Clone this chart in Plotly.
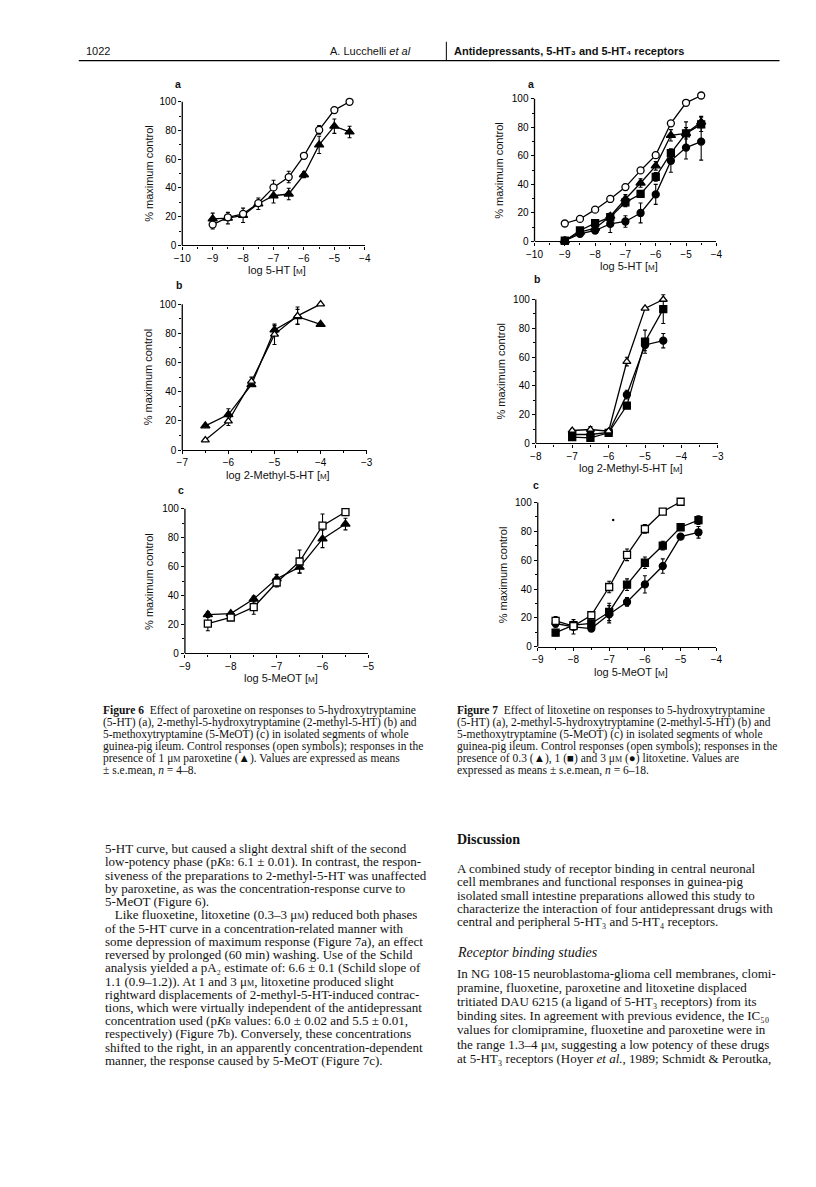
from plotly import graph_objects as go

W, H = 816, 1187

# ---- Figure 6 (paroxetine) ----
f6a_x = [-9, -8.5, -8, -7.5, -7, -6.5, -6, -5.5, -5, -4.5]
f6a_ctrl = [14.5, 19.6, 22, 29.5, 40.4, 47.6, 62.4, 80.4, 94.2, 100]
f6a_ctrl_err = [3, 0, 0, 0, 5, 4, 2, 3, 2, 0]
f6a_parox = [18.5, 19, 21, 29, 34.6, 35.8, 49.2, 70, 83, 79]
f6a_parox_err = [4, 4, 5, 4, 5, 4, 2, 6, 5, 4]

f6b_x = [-6.5, -6, -5.5, -5, -4.5, -4]
f6b_ctrl = [6.8, 19.8, 47, 79.3, 92, 100]
f6b_ctrl_err = [0, 3, 3, 7, 6, 0]
f6b_parox = [16.6, 24.3, 44.8, 82.3, 91.4, 86.1]
f6b_parox_err = [0, 4, 0, 3, 5, 0]

f6c_x = [-8.5, -8, -7.5, -7, -6.5, -6, -5.5]
f6c_ctrl = [20.6, 24.8, 32, 49, 63.5, 88.3, 97.7]
f6c_ctrl_err = [5, 0, 5, 3, 8, 8, 2]
f6c_parox = [26.8, 27.5, 37.6, 51.6, 59.6, 79.1, 89.4]
f6c_parox_err = [2, 0, 2, 3, 4, 6, 4]

# ---- Figure 7 (litoxetine) ----
f7a_x = [-9, -8.5, -8, -7.5, -7, -6.5, -6, -5.5, -5, -4.5]
f7a_ctrl = [12.6, 15.8, 22.3, 29.8, 38.1, 49.8, 60.5, 82.8, 97.2, 102.3]
f7a_ctrl_err = [0, 0, 0, 2, 2, 1, 2, 2, 0, 0]
f7a_lit03 = [0.5, 6.5, 9.3, 17.7, 29.8, 41, 53, 74.4, 75.8, 83.7]
f7a_lit03_err = [0, 1, 1, 2, 3, 3, 3, 4, 4, 4]
f7a_lit1 = [0.5, 7.7, 12.8, 17, 27.4, 33.3, 45.3, 61.9, 75.8, 82.1]
f7a_lit1_err = [0, 1, 1, 2, 3, 2, 3, 3, 8, 5]
f7a_lit3 = [0.5, 5.3, 7.7, 12.3, 14, 20, 33, 56.5, 65.8, 70]
f7a_lit3_err = [0, 1, 2, 6, 4, 7, 7, 8, 8, 13]

f7b_x = [-7, -6.5, -6, -5.5, -5, -4.5]
f7b_ctrl = [9, 9.7, 8.5, 56.9, 93.8, 100]
f7b_ctrl_err = [1, 2, 1, 3, 0, 0]
f7b_lit1 = [4.4, 3.9, 7.4, 26.3, 70.7, 93.3]
f7b_lit1_err = [1, 1, 1, 2, 8, 10]
f7b_lit3 = [6.2, 6.2, 7.6, 33.9, 68.4, 71.4]
f7b_lit3_err = [1, 1, 1, 3, 4, 5]

f7c_x = [-8.5, -8, -7.5, -7, -6.5, -6, -5.5, -5, -4.5]
f7c_ctrl_x = [-8.5, -8, -7.5, -7, -6.5, -6, -5.5, -5]
f7c_ctrl = [17.9, 14.3, 21.8, 41.4, 63.7, 81.6, 93.6, 100.5]
f7c_ctrl_err = [3, 0, 2, 4, 4, 3, 0, 0]
f7c_lit1 = [9.7, 14.9, 16.1, 24.1, 43, 58.2, 70.1, 82.8, 87.8]
f7c_lit1_err = [2, 2, 2, 6, 4, 4, 3, 2, 3]
f7c_lit3 = [16.1, 13.8, 12.6, 22.5, 31, 43.2, 55.9, 76.3, 79.3]
f7c_lit3_err = [3, 5, 2, 6, 3, 6, 5, 2, 4]

M = "<span style='font-size:8px'>M</span>"
KB = "p<i>K</i><span style='font-size:8px'>B</span>"
x_titles = ["log 5-HT [" + M + "]", "log 2-Methyl-5-HT [" + M + "]", "log 5-MeOT [" + M + "]"] * 2
y_title = "% maximum control"
panel_letters = ["a", "b", "c", "a", "b", "c"]

fig6_caption = [
    "<b>Figure 6</b>  Effect of paroxetine on responses to 5-hydroxytryptamine",
    "(5-HT) (a), 2-methyl-5-hydroxytryptamine (2-methyl-5-HT) (b) and",
    "5-methoxytryptamine (5-MeOT) (c) in isolated segments of whole",
    "guinea-pig ileum. Control responses (open symbols); responses in the",
    "presence of 1 μ" + M + " paroxetine (▲). Values are expressed as means",
    "± s.e.mean, <i>n</i> = 4–8.",
]
fig7_caption = [
    "<b>Figure 7</b>  Effect of litoxetine on responses to 5-hydroxytryptamine",
    "(5-HT) (a), 2-methyl-5-hydroxytryptamine (2-methyl-5-HT) (b) and",
    "5-methoxytryptamine (5-MeOT) (c) in isolated segments of whole",
    "guinea-pig ileum. Control responses (open symbols); responses in the",
    "presence of 0.3 (▲), 1 (■) and 3 μ" + M + " (●) litoxetine. Values are",
    "expressed as means ± s.e.mean, <i>n</i> = 6–18.",
]
left_body = [
    "5-HT curve, but caused a slight dextral shift of the second",
    "low-potency phase (" + KB + ": 6.1 ± 0.01). In contrast, the respon-",
    "siveness of the preparations to 2-methyl-5-HT was unaffected",
    "by paroxetine, as was the concentration-response curve to",
    "5-MeOT (Figure 6).",
    "   Like fluoxetine, litoxetine (0.3–3 μ" + M + ") reduced both phases",
    "of the 5-HT curve in a concentration-related manner with",
    "some depression of maximum response (Figure 7a), an effect",
    "reversed by prolonged (60 min) washing. Use of the Schild",
    "analysis yielded a pA₂ estimate of: 6.6 ± 0.1 (Schild slope of",
    "1.1 (0.9–1.2)). At 1 and 3 μ" + M + ", litoxetine produced slight",
    "rightward displacements of 2-methyl-5-HT-induced contrac-",
    "tions, which were virtually independent of the antidepressant",
    "concentration used (" + KB + " values: 6.0 ± 0.02 and 5.5 ± 0.01,",
    "respectively) (Figure 7b). Conversely, these concentrations",
    "shifted to the right, in an apparently concentration-dependent",
    "manner, the response caused by 5-MeOT (Figure 7c).",
]
right_body1 = [
    "A combined study of receptor binding in central neuronal",
    "cell membranes and functional responses in guinea-pig",
    "isolated small intestine preparations allowed this study to",
    "characterize the interaction of four antidepressant drugs with",
    "central and peripheral 5-HT₃ and 5-HT₄ receptors.",
]
right_body2 = [
    "In NG 108-15 neuroblastoma-glioma cell membranes, clomi-",
    "pramine, fluoxetine, paroxetine and litoxetine displaced",
    "tritiated DAU 6215 (a ligand of 5-HT₃ receptors) from its",
    "binding sites. In agreement with previous evidence, the IC₅₀",
    "values for clomipramine, fluoxetine and paroxetine were in",
    "the range 1.3–4 μ" + M + ", suggesting a low potency of these drugs",
    "at 5-HT₃ receptors (Hoyer <i>et al.</i>, 1989; Schmidt & Peroutka,",
]


def px(x):
    return x / W


def py(y):
    return 1 - y / H


# panel geometry in page pixels: x-left, x-right, y(100), y(0), x-range
panels = [
    (177.3, 363.0, 102.3, 246.7, [-10, -4]),
    (177.3, 365.0, 305.7, 452.3, [-7, -3]),
    (180.0, 366.7, 511.3, 656.7, [-9, -5]),
    (535.7, 720.7, 99.3, 242.7, [-10, -4]),
    (537.0, 722.3, 301.0, 445.7, [-8, -3]),
    (539.0, 720.7, 505.0, 650.0, [-9, -4]),
]
YTOP = 104  # headroom so points just above 100 are not clipped
letter_pos = [(173, 84), (174, 286), (176, 492), (532, 84), (538, 280), (537, 487)]
ytitle_x = [142.7, 142.7, 143.3, 499.3, 501.7, 503.3]

fig = go.Figure()


def series(i, x, y, err, symbol, filled, size=7):
    ax = "" if i == 1 else str(i)
    fig.add_trace(go.Scatter(
        x=x, y=y, xaxis="x" + ax, yaxis="y" + ax,
        mode="lines+markers", cliponaxis=False,
        line=dict(color="black", width=1.3),
        marker=dict(symbol=symbol, size=size,
                    color="black" if filled else "white",
                    line=dict(color="black", width=1.3)),
        error_y=dict(type="data", array=err, color="black", thickness=1.1, width=2)))


series(1, f6a_x, f6a_parox, f6a_parox_err, "triangle-up", True, 8)
series(1, f6a_x, f6a_ctrl, f6a_ctrl_err, "circle", False)
series(2, f6b_x, f6b_parox, f6b_parox_err, "triangle-up", True, 8)
series(2, f6b_x, f6b_ctrl, f6b_ctrl_err, "triangle-up", False, 7)
series(3, f6c_x, f6c_parox, f6c_parox_err, "triangle-up", True, 8)
series(3, f6c_x, f6c_ctrl, f6c_ctrl_err, "square", False)

series(4, f7a_x, f7a_lit3, f7a_lit3_err, "circle", True)
series(4, f7a_x, f7a_lit1, f7a_lit1_err, "square", True)
series(4, f7a_x, f7a_lit03, f7a_lit03_err, "triangle-up", True, 8)
series(4, f7a_x, f7a_ctrl, f7a_ctrl_err, "circle", False)
series(5, f7b_x, f7b_lit3, f7b_lit3_err, "circle", True)
series(5, f7b_x, f7b_lit1, f7b_lit1_err, "square", True)
series(5, f7b_x, f7b_ctrl, f7b_ctrl_err, "triangle-up", False, 7)
series(6, f7c_x, f7c_lit3, f7c_lit3_err, "circle", True)
series(6, f7c_x, f7c_lit1, f7c_lit1_err, "square", True)
series(6, f7c_ctrl_x, f7c_ctrl, f7c_ctrl_err, "square", False)

sans = "Liberation Sans, Arial"
serif = "Liberation Serif, Times New Roman"
tickfont = dict(family=sans, size=10, color="black")
layout = {}
annotations = []
shapes = []


def note(x, y, s, size, family, xanchor="left", **kw):
    annotations.append(dict(
        x=px(x), y=py(y), xref="paper", yref="paper", text=s, showarrow=False,
        xanchor=xanchor, yanchor="middle", font=dict(family=family, size=size, color="#111"), **kw))


for i, (x0, x1, ytop, ybot, xr) in enumerate(panels, start=1):
    ax = "" if i == 1 else str(i)
    unit = (ybot - ytop) / 100.0
    top_px = ybot - YTOP * unit
    layout["xaxis" + ax] = dict(
        domain=[px(x0), px(x1)], range=xr, anchor="y" + ax,
        showline=True, linecolor="black", linewidth=1.3,
        ticks="outside", ticklen=3, tickwidth=1.2, tickcolor="black",
        tick0=0, dtick=1, showgrid=False, zeroline=False, tickfont=tickfont,
        minor=dict(ticks="outside", ticklen=2, dtick=0.5, tickcolor="black", showgrid=False))
    layout["yaxis" + ax] = dict(
        domain=[py(ybot), py(top_px)], range=[0, YTOP], anchor="x" + ax,
        showline=False, ticks="outside", ticklen=3, tickwidth=1.2, tickcolor="black",
        tick0=0, dtick=20, showgrid=False, zeroline=False, tickfont=tickfont,
        minor=dict(ticks="outside", ticklen=2, dtick=10, tickcolor="black", showgrid=False))
    # y axis line only from 0 to 100, as in the print
    shapes.append(dict(type="line", xref="x" + ax + " domain", yref="y" + ax,
                       x0=0, x1=0, y0=0, y1=100, line=dict(color="black", width=1.3)))
    k = i - 1
    note(letter_pos[k][0], letter_pos[k][1], "<b>" + panel_letters[k] + "</b>", 10.5, sans, "center")
    note(ytitle_x[k], (ytop + ybot) / 2, y_title, 11, sans, "center", textangle=-90)
    note((x0 + x1) / 2 + 4, ybot + 25, x_titles[k], 11, sans, "center")

# page header
hfont = "Liberation Sans Narrow, Liberation Sans"
note(77, 51, "1022", 11, hfont)
note(412, 51, "A. Lucchelli <i>et al</i>", 11, hfont, "right")
note(452, 51, "<b>Antidepressants, 5-HT₃ and 5-HT₄ receptors</b>", 11, hfont)
shapes += [
    dict(type="line", xref="paper", yref="paper", x0=px(72), x1=px(785), y0=py(61), y1=py(61),
         line=dict(color="black", width=1.2)),
    dict(type="line", xref="paper", yref="paper", x0=px(446), x1=px(446), y0=py(42), y1=py(61),
         line=dict(color="black", width=1)),
    dict(type="circle", xref="paper", yref="paper", x0=px(614.5), x1=px(617), y0=py(521.5), y1=py(524),
         fillcolor="black", line=dict(width=0)),
]

for k, line in enumerate(fig6_caption):
    note(95, 714 + 12 * k, line, 11.5, serif)
for k, line in enumerate(fig7_caption):
    note(455, 714 + 12 * k, line, 11.5, serif)
for k, line in enumerate(left_body):
    note(97, 853 + 13.3 * k, line, 13, serif)
note(455, 844, "<b>Discussion</b>", 14, serif)
for k, line in enumerate(right_body1):
    note(455, 873 + 13.3 * k, line, 13, serif)
note(455, 957, "<i>Receptor binding studies</i>", 14, serif)
for k, line in enumerate(right_body2):
    note(455, 978 + 14.3 * k, line, 13, serif)

fig.update_layout(
    width=W, height=H, margin=dict(l=0, r=0, t=0, b=0),
    paper_bgcolor="white", plot_bgcolor="white", showlegend=False,
    annotations=annotations, shapes=shapes, **layout)

fig.write_html("out.html", config={"displayModeBar": False},
               post_script="document.body.style.margin='0px';")
